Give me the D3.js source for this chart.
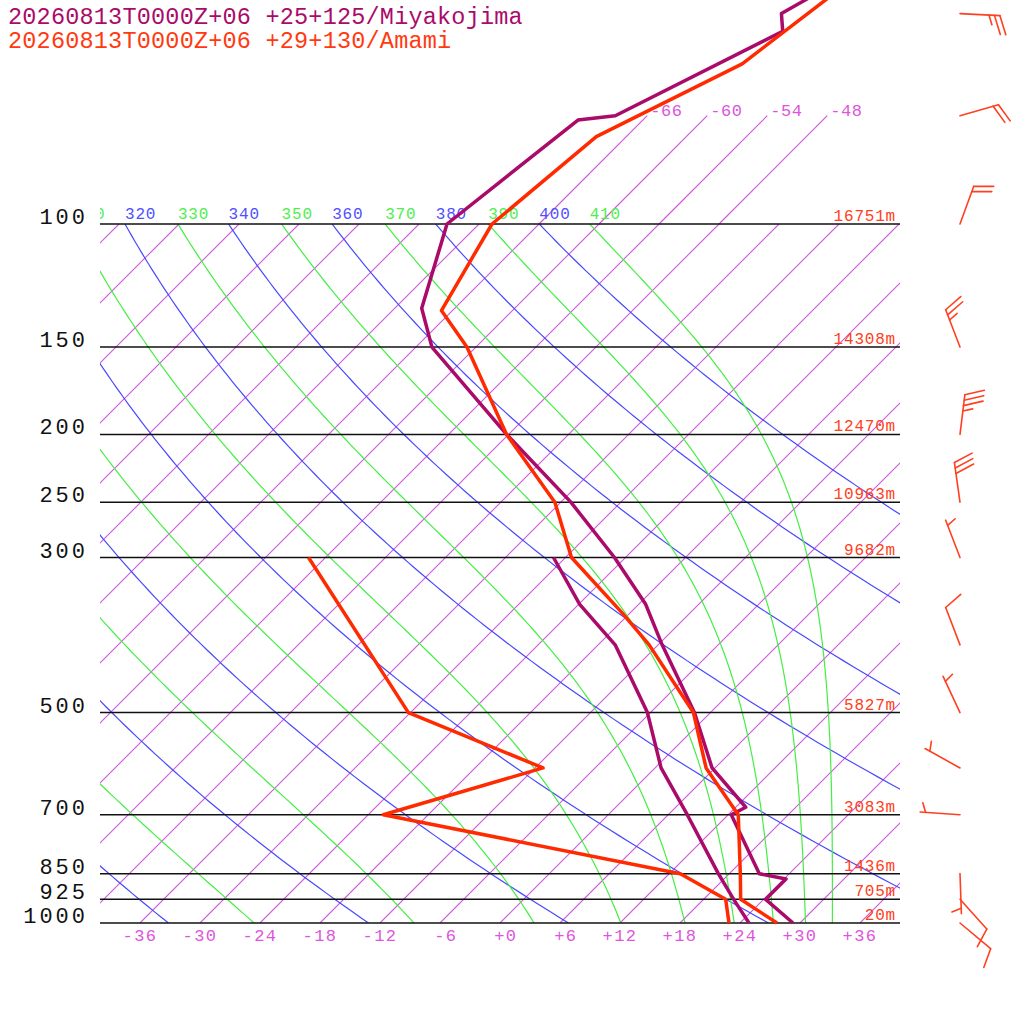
<!DOCTYPE html>
<html>
<head>
<meta charset="utf-8">
<script src="https://cdn.jsdelivr.net/npm/d3@7"></script>
<style>
  body { margin: 0; background: #fff; }
  text { font-family: "Liberation Mono", monospace; }
</style>
</head>
<body>
<div id="chart"></div>
<script>
// skew-T for two stations, 2026-08-13 00Z+06

const width = 1024, height = 1024;

// isobars with their geopotential heights
const isobars = [100, 150, 200, 250, 300, 500, 700, 850, 925, 1000];
const isobarHeights = ["16751m", "14308m", "12470m", "10963m", "9682m", "5827m", "3083m", "1436m", "705m", "20m"];

// grid
const isothermTicks = [-36, -30, -24, -18, -12, -6, 0, 6, 12, 18, 24, 30, 36];
const upperIsotherms = [-66, -60, -54, -48];
const dryThetas = [240, 260, 280, 300, 320, 340, 360, 380, 400];
const moistThetas = [250, 270, 290, 310, 330, 350, 370, 390, 410];

// Miyakojima
const miyaTempP = [1000, 925, 865, 850, 700, 683, 600, 500, 400, 350, 300, 250, 200, 150, 132, 100, 71, 70, 53, 50, 40];
const miyaTemp = [29.3, 24.2, 24.2, 21.0, 12.3, 13.0, 5.7, -1.6, -11.6, -17.3, -25.1, -35.0, -48.2, -64.4, -69.3, -75.2, -72.5, -69.2, -60.9, -62.8, -57.7];
const miyaDewP = [1000, 925, 850, 700, 600, 500, 400, 350, 300];
const miyaDew = [24.9, 21.0, 16.9, 7.9, 0.6, -6.3, -16.3, -23.9, -31.2];

// Amami
const amamiTempP = [1000, 925, 850, 700, 600, 500, 400, 360, 300, 250, 200, 150, 133, 100, 75, 59, 40];
const amamiTemp = [27.7, 21.7, 19.1, 13.0, 5.1, -1.7, -12.9, -18.8, -29.4, -36.6, -48.2, -60.9, -67.1, -70.7, -69.0, -61.7, -58.1];
const amamiDewP = [1000, 925, 850, 700, 600, 500, 300];
const amamiDew = [22.9, 20.2, 13.1, -22.5, -11.2, -30.2, -55.7];

// winds (deg, kt)
const windP = [50, 70, 100, 150, 200, 250, 300, 400, 500, 600, 700, 850, 925, 1000];
const windDir = [93, 74, 20, 339, 7, 352, 339, 339, 335, 299, 274, 178, 138, 130];
const windSpd = [25, 20, 20, 25, 35, 30, 5, 10, 5, 5, 5, 5, 10, 10];

const titles = ["20260813T0000Z+06 +25+125/Miyakojima", "20260813T0000Z+06 +29+130/Amami"];

const purple = "#aa0a6a", red = "#ff2a00", redText = "#ff4020";
const isoColor = "#d055dd", dryColor = "#4848ff", moistColor = "#44ee44";

const svg = d3.select("#chart").append("svg")
  .attr("width", width)
  .attr("height", height);

const yP = d3.scaleLog().domain([1000, 100]).range([923, 224]);
const xT = d3.scaleLinear().domain([-40, 40]).range([100, 900]);
const skewX = (t, p) => xT(t) + yP(1000) - yP(p);

const defs = svg.append("defs");
defs.append("clipPath").attr("id", "plotArea")
  .append("rect").attr("x", 100).attr("y", 224).attr("width", 800).attr("height", 699);
defs.append("clipPath").attr("id", "labelArea")
  .append("rect").attr("x", 100).attr("y", 0).attr("width", 800).attr("height", 1024);

const grid = svg.append("g").attr("clip-path", "url(#plotArea)");

// isotherms every 6 C
d3.range(-108, 37, 6).forEach(t => {
  grid.append("line")
    .attr("x1", skewX(t, 1000)).attr("y1", yP(1000))
    .attr("x2", skewX(t, 100)).attr("y2", yP(100))
    .attr("stroke", isoColor).attr("stroke-width", 1.1);
});

// a few isotherms run above 100 hPa
upperIsotherms.forEach(t => {
  svg.append("line")
    .attr("x1", skewX(t, 100)).attr("y1", yP(100))
    .attr("x2", skewX(t, 70)).attr("y2", yP(70))
    .attr("stroke", isoColor).attr("stroke-width", 1.1);
  svg.append("text")
    .attr("x", skewX(t, 70) + 3).attr("y", yP(70))
    .attr("font-size", 17).attr("letter-spacing", 0.6)
    .attr("fill", "#dd55dd")
    .text(t);
});

const levels = d3.range(0, 121).map(i => 1000 * Math.pow(0.1, i / 120));
const kappa = 0.2857;

const dryT = (th, p) => th * Math.pow(p / 1000, kappa) - 273.15;

function thetaE(tk, p) {
  const tc = tk - 273.15;
  const es = 6.112 * Math.exp(17.67 * tc / (tc + 243.5));
  if (es > 0.8 * p) return 1e4;
  const r = 622 * es / (p - es);
  return tk * Math.pow(1000 / p, 0.2854 * (1 - 0.00028 * r)) *
    Math.exp((3.376 / tk - 0.00254) * r * (1 + 0.00081 * r));
}
function moistT(te, p) {
  let lo = 120, hi = 340;
  for (let i = 0; i < 50; i++) {
    const mid = (lo + hi) / 2;
    if (thetaE(mid, p) > te) hi = mid; else lo = mid;
  }
  return (lo + hi) / 2 - 273.15;
}

const curve = d3.line().x(d => d[0]).y(d => d[1]);

dryThetas.forEach(th => {
  grid.append("path")
    .attr("d", curve(levels.map(p => [skewX(dryT(th, p), p), yP(p)])))
    .attr("fill", "none").attr("stroke", dryColor).attr("stroke-width", 1.2);
});
moistThetas.forEach(th => {
  grid.append("path")
    .attr("d", curve(levels.map(p => [skewX(moistT(th, p), p), yP(p)])))
    .attr("fill", "none").attr("stroke", moistColor).attr("stroke-width", 1.2);
});

// theta labels on the 100 hPa line (only those reaching the plot)
const thetaLabels = svg.append("g").attr("clip-path", "url(#labelArea)")
  .attr("font-size", 16).attr("letter-spacing", 0.8);
dryThetas.forEach(th => {
  const x = skewX(dryT(th, 100), 100);
  if (x < 65) return;
  thetaLabels.append("text")
    .attr("x", x).attr("y", 219)
    .attr("fill", "#5050ff").text(th);
});
moistThetas.forEach(th => {
  const x = skewX(moistT(th, 100), 100);
  if (x < 65) return;
  thetaLabels.append("text")
    .attr("x", x).attr("y", 219)
    .attr("fill", "#50ee50").text(th);
});

// isobars
isobars.forEach((p, i) => {
  svg.append("line")
    .attr("x1", 100).attr("x2", 900)
    .attr("y1", yP(p)).attr("y2", yP(p))
    .attr("stroke", "#111").attr("stroke-width", 1.5);
  svg.append("text")
    .attr("x", 88).attr("y", yP(p))
    .attr("text-anchor", "end")
    .attr("font-size", 22).attr("letter-spacing", 3)
    .attr("fill", "#111")
    .text(p);
  svg.append("text")
    .attr("x", 896).attr("y", yP(p) - 3)
    .attr("text-anchor", "end")
    .attr("font-size", 16).attr("letter-spacing", 0.8)
    .attr("fill", redText)
    .text(isobarHeights[i]);
});

// isotherm labels under the 1000 hPa line, padded to 3 chars
const adv = 17 * 0.6 + 1.5;
isothermTicks.forEach(t => {
  const s = (t >= 0 ? "+" : "") + t;
  svg.append("text")
    .attr("x", skewX(t, 1000) - 1.5 * adv + (3 - s.length) * adv)
    .attr("y", 941)
    .attr("font-size", 17).attr("letter-spacing", 1.5)
    .attr("fill", "#dd55dd")
    .text(s);
});

// soundings
const sounding = d3.line()
  .x((d) => skewX(d[1], d[0]))
  .y((d) => yP(d[0]));

function drawProfile(ps, ts, color) {
  svg.append("path")
    .attr("d", sounding(ps.map((p, i) => [p, ts[i]])))
    .attr("fill", "none")
    .attr("stroke", color)
    .attr("stroke-width", 3.5)
    .attr("stroke-linejoin", "round");
}
drawProfile(miyaDewP, miyaDew, purple);
drawProfile(miyaTempP, miyaTemp, purple);
drawProfile(amamiDewP, amamiDew, red);
drawProfile(amamiTempP, amamiTemp, red);

// wind barbs
const barbs = svg.append("g").attr("stroke", redText).attr("stroke-width", 1.6)
  .attr("fill", "none").attr("stroke-linecap", "round");
windP.forEach((p, i) => {
  const rad = windDir[i] * Math.PI / 180;
  const ux = Math.sin(rad), uy = -Math.cos(rad);
  const bx = 960, by = yP(p);
  const tx = bx + 40 * ux, ty = by + 40 * uy;
  const a = 70 * Math.PI / 180;
  const fx = ux * Math.cos(a) - uy * Math.sin(a);
  const fy = ux * Math.sin(a) + uy * Math.cos(a);
  barbs.append("line").attr("x1", bx).attr("y1", by).attr("x2", tx).attr("y2", ty);
  const full = Math.floor(windSpd[i] / 10);
  const half = windSpd[i] % 10 >= 5;
  const feathers = d3.range(full).map(() => 20);
  if (half) feathers.push(10);
  let off = full === 0 ? 5.5 : 0;
  feathers.forEach(len => {
    const sx = tx - off * ux, sy = ty - off * uy;
    barbs.append("line")
      .attr("x1", sx).attr("y1", sy)
      .attr("x2", sx + len * fx).attr("y2", sy + len * fy);
    off += 5.5;
  });
});

// station titles
svg.selectAll(".title")
  .data(titles)
  .enter()
  .append("text")
    .attr("x", 8)
    .attr("y", (d, i) => 24 + i * 24)
    .attr("font-size", 23.5)
    .attr("letter-spacing", 0.2)
    .attr("fill", (d, i) => i === 0 ? purple : "#ff3a10")
    .text(d => d);
</script>
</body>
</html>
